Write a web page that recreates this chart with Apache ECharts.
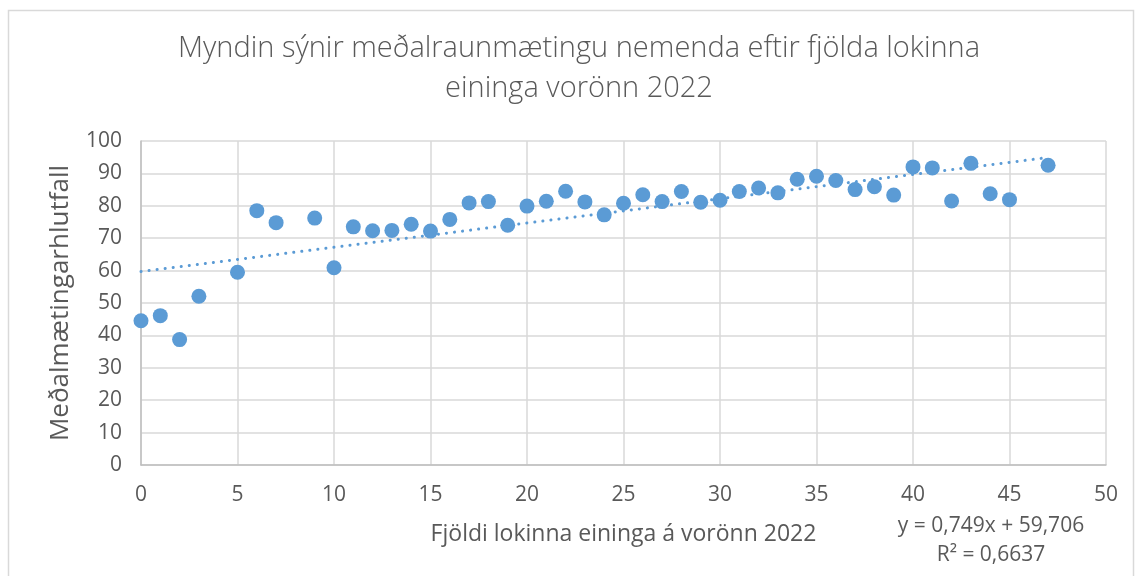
<!DOCTYPE html>
<html><head><meta charset="utf-8">
<script src="https://cdn.jsdelivr.net/npm/echarts@6/dist/echarts.min.js"></script>
<style>html,body{margin:0;padding:0;background:#fff}#c{width:1138px;height:576px}</style>
</head><body><div id="c"></div>
<script>
const titleLines = ["Myndin sýnir meðalraunmætingu nemenda eftir fjölda lokinna", "eininga vorönn 2022"];
const xName = "Fjöldi lokinna eininga á vorönn 2022";
const yName = "Meðalmætingarhlutfall";
const units = [0,1,2,3,5,6,7,9,10,11,12,13,14,15,16,17,18,19,20,21,22,23,24,25,26,27,28,29,30,31,32,33,34,35,36,37,38,39,40,41,42,43,44,45,47];
const attendance = [44.5,46.1,38.7,52.1,59.5,78.5,74.8,76.2,60.9,73.5,72.3,72.4,74.3,72.2,75.8,80.9,81.3,74.0,79.9,81.4,84.5,81.2,77.2,80.8,83.4,81.3,84.4,81.1,81.7,84.4,85.5,84.0,88.2,89.1,87.8,85.0,85.9,83.3,92.0,91.7,81.5,93.1,83.7,81.9,92.5];
const trendSlope = 0.749, trendIntercept = 59.706;
const trendRange = [0, 47];
const eqText = "y = 0,749x + 59,706";
const r2Text = "R² = 0,6637";

const pts = units.map((u,i)=>[u, attendance[i]]);
const trend = trendRange.map(x=>[x, trendSlope*x + trendIntercept]);
const font = "'Open Sans', 'Noto Sans', sans-serif";
const chart = echarts.init(document.getElementById('c'));
chart.setOption({
  animation:false,
  grid:{left:141, right:32, top:141, bottom:111},
  xAxis:{type:'value', min:0, max:50, interval:5,
    name:xName, nameLocation:'middle', nameGap:58,
    nameTextStyle:{fontFamily:font, fontSize:23, color:'#595959'},
    axisLine:{show:true, lineStyle:{color:'#bfbfbf', width:1.5}},
    axisTick:{show:false},
    axisLabel:{fontFamily:font, fontSize:21, color:'#595959', margin:20},
    splitLine:{show:true, lineStyle:{color:'#d9d9d9', width:1.5}}},
  yAxis:{type:'value', min:0, max:100, interval:10,
    name:yName, nameLocation:'middle', nameGap:67,
    nameTextStyle:{fontFamily:font, fontSize:26, color:'#595959'},
    axisLine:{show:true, lineStyle:{color:'#bfbfbf', width:1.5}},
    axisTick:{show:false},
    axisLabel:{fontFamily:font, fontSize:21, color:'#595959', margin:19},
    splitLine:{show:true, lineStyle:{color:'#d9d9d9', width:1.5}}},
  series:[
    {type:'line', data:trend, symbol:'none', z:1,
      lineStyle:{color:'#5b9bd5', width:3, type:[0.1,8], cap:'round'}},
    {type:'scatter', data:pts, symbol:'circle', symbolSize:15, z:2,
      itemStyle:{color:'#5b9bd5', opacity:1}}
  ],
  graphic:[
    {type:'rect', shape:{x:8.5, y:10.5, width:1125, height:580}, style:{fill:null, stroke:'#d9d9d9', lineWidth:1.5}, silent:true},
    {type:'text', x:579, y:29, style:{text:titleLines.join('\n'), fill:'#595959', font:"300 29px "+font, align:'center', verticalAlign:'top', lineHeight:40}},
    {type:'text', x:991, y:512, style:{text:eqText+'\n'+r2Text, fill:'#595959', font:"21px "+font, align:'center', verticalAlign:'top', lineHeight:29}}
  ]
});
</script></body></html>
